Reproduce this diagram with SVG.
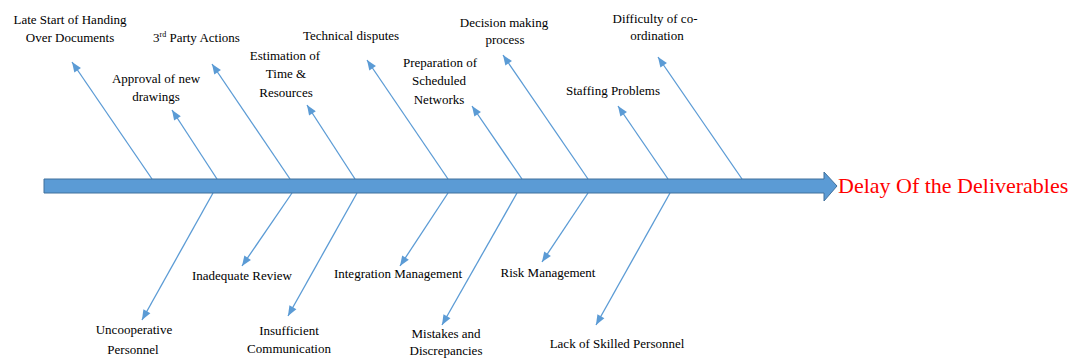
<svg xmlns="http://www.w3.org/2000/svg" width="1071" height="360" viewBox="0 0 1071 360">
<defs>
<path id="head" d="M0,0 L-10,-4 L-10,4 Z" fill="#5B9BD5"/>
</defs>
<rect width="1071" height="360" fill="#fff"/>
<g id="connectors">
<g stroke="#5B9BD5" stroke-width="1.3" fill="none">
<line x1="152" y1="179" x2="72" y2="62"/>
<line x1="217" y1="179" x2="172" y2="110"/>
<line x1="290" y1="179" x2="212" y2="64"/>
<line x1="355" y1="179" x2="307" y2="105"/>
<line x1="448" y1="179" x2="367" y2="60"/>
<line x1="522" y1="179" x2="472" y2="106"/>
<line x1="588" y1="179" x2="503" y2="55"/>
<line x1="668" y1="179" x2="618" y2="106"/>
<line x1="742" y1="179" x2="658" y2="57"/>
<line x1="213" y1="193" x2="142" y2="320"/>
<line x1="292" y1="193" x2="242" y2="266"/>
<line x1="357" y1="193" x2="288" y2="316"/>
<line x1="448" y1="193" x2="400" y2="266"/>
<line x1="517" y1="193" x2="442" y2="325"/>
<line x1="588" y1="193" x2="542" y2="262"/>
<line x1="670" y1="193" x2="596" y2="325"/>
</g>
<use href="#head" transform="translate(72,62) rotate(-124.36)"/>
<use href="#head" transform="translate(172,110) rotate(-123.11)"/>
<use href="#head" transform="translate(212,64) rotate(-124.15)"/>
<use href="#head" transform="translate(307,105) rotate(-122.97)"/>
<use href="#head" transform="translate(367,60) rotate(-124.24)"/>
<use href="#head" transform="translate(472,106) rotate(-124.41)"/>
<use href="#head" transform="translate(503,55) rotate(-124.43)"/>
<use href="#head" transform="translate(618,106) rotate(-124.41)"/>
<use href="#head" transform="translate(658,57) rotate(-124.55)"/>
<use href="#head" transform="translate(142,320) rotate(119.21)"/>
<use href="#head" transform="translate(242,266) rotate(124.41)"/>
<use href="#head" transform="translate(288,316) rotate(119.29)"/>
<use href="#head" transform="translate(400,266) rotate(123.33)"/>
<use href="#head" transform="translate(442,325) rotate(119.61)"/>
<use href="#head" transform="translate(542,262) rotate(123.69)"/>
<use href="#head" transform="translate(596,325) rotate(119.28)"/>
</g>
<g id="spine">
<polygon fill="#5B9BD5" stroke="#41719C" stroke-width="1" points="44,179 824,179 824,172 837,186 824,201 824,193 44,193"/>
</g>
<g id="effect"><text x="838" y="193" font-size="22" fill="#FF0000" style="font-family:'Liberation Serif',serif">Delay Of the Deliverables</text></g>
<g id="labels" font-size="13" fill="#000" text-anchor="middle" style="font-family:'Liberation Serif',serif">
<g id="n-late"><text x="70" y="24" style="font-family:'Liberation Serif',serif">Late Start of Handing</text><text x="70" y="42" style="font-family:'Liberation Serif',serif">Over Documents</text></g>
<g id="n-3rd"><text x="153" y="42" text-anchor="start" style="font-family:'Liberation Serif',serif">3<tspan font-size="8" dy="-5">rd</tspan><tspan dy="5"> Party Actions</tspan></text></g>
<g id="n-approval"><text x="156" y="83" style="font-family:'Liberation Serif',serif">Approval of new</text><text x="156" y="101" style="font-family:'Liberation Serif',serif">drawings</text></g>
<g id="n-estimation"><text x="285" y="60" style="font-family:'Liberation Serif',serif">Estimation of</text><text x="286" y="78" style="font-family:'Liberation Serif',serif">Time &amp;</text><text x="286" y="97" style="font-family:'Liberation Serif',serif">Resources</text></g>
<g id="n-technical"><text x="351" y="40" style="font-family:'Liberation Serif',serif">Technical disputes</text></g>
<g id="n-preparation"><text x="440" y="67" style="font-family:'Liberation Serif',serif">Preparation of</text><text x="439" y="85" style="font-family:'Liberation Serif',serif">Scheduled</text><text x="439" y="104" style="font-family:'Liberation Serif',serif">Networks</text></g>
<g id="n-decision"><text x="504" y="27" style="font-family:'Liberation Serif',serif">Decision making</text><text x="505" y="44" style="font-family:'Liberation Serif',serif">process</text></g>
<g id="n-staffing"><text x="613" y="95" style="font-family:'Liberation Serif',serif">Staffing Problems</text></g>
<g id="n-difficulty"><text x="655" y="23" style="font-family:'Liberation Serif',serif">Difficulty of co-</text><text x="657" y="40" style="font-family:'Liberation Serif',serif">ordination</text></g>
<g id="n-uncooperative"><text x="134" y="334" style="font-family:'Liberation Serif',serif">Uncooperative</text><text x="133" y="354" style="font-family:'Liberation Serif',serif">Personnel</text></g>
<g id="n-inadequate"><text x="242" y="280" style="font-family:'Liberation Serif',serif">Inadequate Review</text></g>
<g id="n-insufficient"><text x="289" y="335" style="font-family:'Liberation Serif',serif">Insufficient</text><text x="289" y="353" style="font-family:'Liberation Serif',serif">Communication</text></g>
<g id="n-integration"><text x="398" y="278" style="font-family:'Liberation Serif',serif">Integration Management</text></g>
<g id="n-mistakes"><text x="446" y="338" style="font-family:'Liberation Serif',serif">Mistakes and</text><text x="446" y="355" style="font-family:'Liberation Serif',serif">Discrepancies</text></g>
<g id="n-risk"><text x="548" y="277" style="font-family:'Liberation Serif',serif">Risk Management</text></g>
<g id="n-lack"><text x="617" y="348" style="font-family:'Liberation Serif',serif">Lack of Skilled Personnel</text></g>
</g>
</svg>
